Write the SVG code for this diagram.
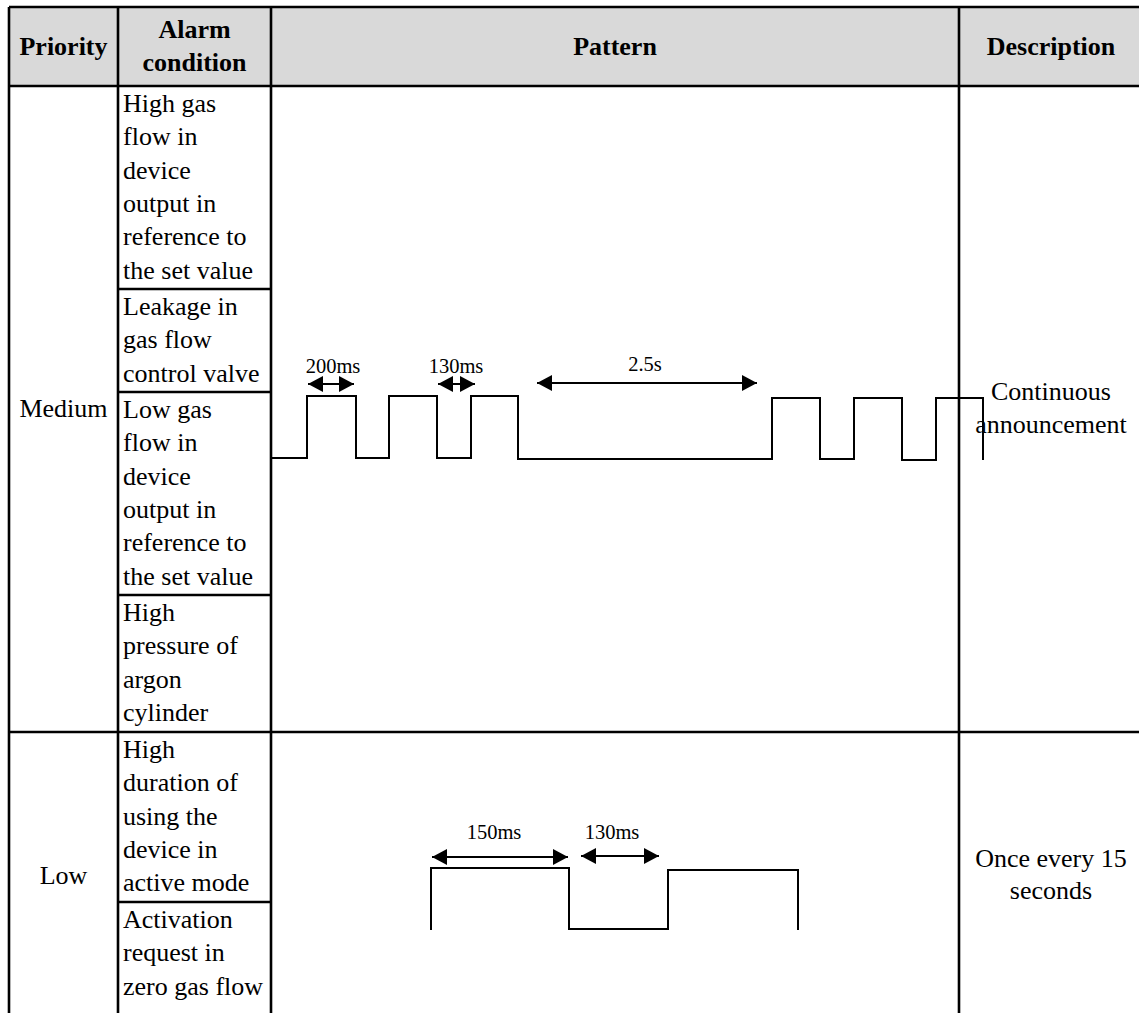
<svg xmlns="http://www.w3.org/2000/svg" width="1139" height="1013" viewBox="0 0 1139 1013" font-family="Liberation Serif, Tinos, Times New Roman, DejaVu Serif, serif">
<style>
.t{font-size:26px;fill:#000}
.h{font-size:26px;font-weight:bold;text-anchor:middle;fill:#000}
.c{text-anchor:middle}
.l{font-size:20.5px;text-anchor:middle;fill:#000}
.b{stroke:#000;stroke-width:2.6;fill:none}
.w{stroke:#000;stroke-width:2;fill:none}
.a{stroke:#000;stroke-width:2;fill:none;marker-start:url(#ah);marker-end:url(#ah)}
</style>
<defs>
<marker id="ah" markerUnits="userSpaceOnUse" markerWidth="16" markerHeight="16" refX="15" refY="8" orient="auto-start-reverse">
<path d="M0,0 L15,8 L0,16 z" fill="#000"/>
</marker>
</defs>
<rect x="0" y="0" width="1139" height="1013" fill="#fff"/>
<g id="header">
<rect x="9" y="7" width="1140" height="79" fill="#d9d9d9"/>
<text class="h" x="63.5" y="55">Priority</text>
<text class="h" x="194.5" y="38">Alarm</text>
<text class="h" x="194.5" y="71">condition</text>
<text class="h" x="615" y="55">Pattern</text>
<text class="h" x="1051" y="55">Description</text>
</g>
<g id="grid">
<path class="b" d="M9,7 H1139 M9,86 H1139 M9,732 H1139 M9,7 V1013 M118,7 V1013 M271,7 V1013 M959,7 V1013 M118,289 H271 M118,392 H271 M118,595 H271 M118,902 H271"/>
</g>
<g id="medium-priority">
<text class="t c" x="63.5" y="417">Medium</text>
</g>
<g id="cond-1">
<text class="t" x="123" y="112">High gas</text>
<text class="t" x="123" y="145.3">flow in</text>
<text class="t" x="123" y="178.6">device</text>
<text class="t" x="123" y="212">output in</text>
<text class="t" x="123" y="245.2">reference to</text>
<text class="t" x="123" y="278.5">the set value</text>
</g>
<g id="cond-2">
<text class="t" x="123" y="315">Leakage in</text>
<text class="t" x="123" y="348.3">gas flow</text>
<text class="t" x="123" y="381.6">control valve</text>
</g>
<g id="cond-3">
<text class="t" x="123" y="418">Low gas</text>
<text class="t" x="123" y="451.3">flow in</text>
<text class="t" x="123" y="484.6">device</text>
<text class="t" x="123" y="518">output in</text>
<text class="t" x="123" y="551.2">reference to</text>
<text class="t" x="123" y="584.5">the set value</text>
</g>
<g id="cond-4">
<text class="t" x="123" y="621">High</text>
<text class="t" x="123" y="654.3">pressure of</text>
<text class="t" x="123" y="687.6">argon</text>
<text class="t" x="123" y="721">cylinder</text>
</g>
<g id="medium-pattern">
<path class="w" d="M272,458 H307 V396 H356 V458 H389 V396 H437 V458 H471 V396 H518 V459 H772 V398 H820 V459 H854 V398 H902 V460 H936 V398 H983 V460"/>
<text class="l" x="333" y="373">200ms</text>
<text class="l" x="456" y="373">130ms</text>
<text class="l" x="645" y="371">2.5s</text>
</g>
<g id="medium-description">
<text class="t c" x="1051" y="400">Continuous</text>
<text class="t c" x="1051" y="433">announcement</text>
</g>
<g id="low-priority">
<text class="t c" x="63.5" y="884">Low</text>
</g>
<g id="cond-5">
<text class="t" x="123" y="758">High</text>
<text class="t" x="123" y="791.3">duration of</text>
<text class="t" x="123" y="824.6">using the</text>
<text class="t" x="123" y="858">device in</text>
<text class="t" x="123" y="891.2">active mode</text>
</g>
<g id="cond-6">
<text class="t" x="123" y="928">Activation</text>
<text class="t" x="123" y="961.3">request in</text>
<text class="t" x="123" y="994.6">zero gas flow</text>
</g>
<g id="low-pattern">
<path class="w" d="M431,930 V868 H569 V929 H668 V870 H798 V930"/>
<text class="l" x="494" y="839">150ms</text>
<text class="l" x="612" y="839">130ms</text>
</g>
<g id="low-description">
<text class="t c" x="1051" y="867">Once every 15</text>
<text class="t c" x="1051" y="899">seconds</text>
</g>
<g id="connectors">
<line class="a" x1="308" y1="384" x2="354" y2="384"/>
<line class="a" x1="438" y1="384" x2="475" y2="384"/>
<line class="a" x1="537" y1="383" x2="757" y2="383"/>
<line class="a" x1="432" y1="857" x2="568" y2="857"/>
<line class="a" x1="581" y1="856" x2="659" y2="856"/>
</g>
</svg>
